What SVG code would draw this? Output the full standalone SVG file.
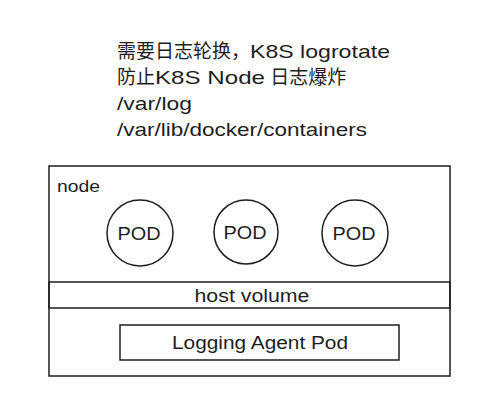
<svg xmlns="http://www.w3.org/2000/svg" width="501" height="414" viewBox="0 0 501 414">
<style>
.s{fill:none;stroke:#1e1e1e;stroke-width:1.5;stroke-linecap:round}
.t{font-family:"Liberation Sans","Noto Sans CJK SC",sans-serif;fill:#1e1e1e}
.h{font-size:19px}
.p{font-size:18px;text-anchor:middle}
</style>
<rect width="501" height="414" fill="#ffffff"/>
<g id="title">
<text class="t h" x="117" y="58">需要日志轮换，<tspan textLength="140" lengthAdjust="spacingAndGlyphs">K8S logrotate</tspan></text>
<text class="t h" x="117" y="84">防止<tspan textLength="110" lengthAdjust="spacingAndGlyphs">K8S Node</tspan> 日志爆炸</text>
<text class="t h" x="117" y="110" textLength="75" lengthAdjust="spacingAndGlyphs">/var/log</text>
<text class="t h" x="117" y="136" textLength="250" lengthAdjust="spacingAndGlyphs">/var/lib/docker/containers</text>
</g>
<g id="node">
<rect class="s" x="49" y="166" width="401" height="210"/>
<text class="t" x="57" y="192" font-size="17" textLength="43" lengthAdjust="spacingAndGlyphs">node</text>
</g>
<g id="pod1">
<circle class="s" cx="140" cy="233" r="33"/>
<text class="t p" x="139" y="240" textLength="43" lengthAdjust="spacingAndGlyphs">POD</text>
</g>
<g id="pod2">
<circle class="s" cx="246" cy="232" r="32"/>
<text class="t p" x="245" y="239" textLength="43" lengthAdjust="spacingAndGlyphs">POD</text>
</g>
<g id="pod3">
<circle class="s" cx="355" cy="233" r="33"/>
<text class="t p" x="354" y="240" textLength="43" lengthAdjust="spacingAndGlyphs">POD</text>
</g>
<g id="host-volume">
<rect class="s" x="49" y="282" width="401" height="26"/>
<text class="t p" x="252" y="302" textLength="115" lengthAdjust="spacingAndGlyphs">host volume</text>
</g>
<g id="logging-agent">
<rect class="s" x="120" y="325" width="279" height="35"/>
<text class="t p" x="260" y="349" font-size="19" textLength="176" lengthAdjust="spacingAndGlyphs">Logging Agent Pod</text>
</g>
<g id="connectors"></g>
</svg>
